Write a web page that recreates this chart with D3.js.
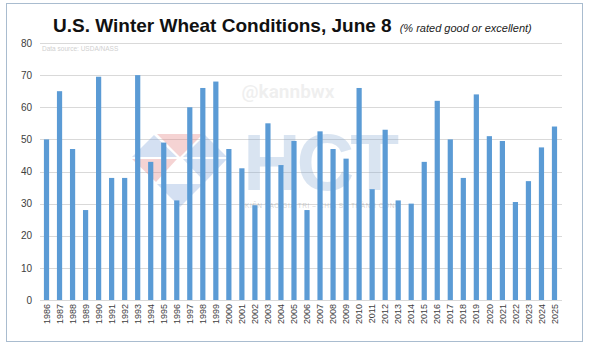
<!DOCTYPE html>
<html>
<head>
<meta charset="utf-8">
<script src="https://cdn.jsdelivr.net/npm/d3@7"></script>
<style>
  html, body { margin: 0; padding: 0; background: #ffffff; }
  svg { display: block; font-family: "Liberation Sans", Arial, sans-serif; }
</style>
</head>
<body>
<svg id="chart" width="590" height="346"></svg>
<script>
// ---- data ----
const years = ["1986","1987","1988","1989","1990","1991","1992","1993","1994","1995",
               "1996","1997","1998","1999","2000","2001","2002","2003","2004","2005",
               "2006","2007","2008","2009","2010","2011","2012","2013","2014","2015",
               "2016","2017","2018","2019","2020","2021","2022","2023","2024","2025"];
const goodExcellent = [50, 65, 47, 28, 69.5, 38, 38, 70, 43, 49,
                       31, 60, 66, 68, 47, 41, 29.5, 55, 42, 49.5,
                       28, 52.5, 47, 44, 66, 34.5, 53, 31, 30, 43,
                       62, 50, 38, 64, 51, 49.5, 30.5, 37, 47.5, 54];
const yTicks = [0, 10, 20, 30, 40, 50, 60, 70, 80];
const titleText = "U.S. Winter Wheat Conditions, June 8";
const subtitleText = "(% rated good or excellent)";
const sourceText = "Data source: USDA/NASS";

(function draw() {
// ---- layout ----
const svg = d3.select("#chart");
const mLeft = 40, mRight = 561, mTop = 43, mBottom = 300;

// frame
svg.append("rect").attr("x", 6.5).attr("y", 3.5).attr("width", 576).attr("height", 338)
  .attr("fill", "#ffffff").attr("stroke", "#a9bccf").attr("stroke-width", 1);

const x = d3.scaleBand().domain(years).range([mLeft, mRight]).paddingInner(0.6).paddingOuter(0.3);
const y = d3.scaleLinear().domain([0, 80]).range([mBottom, mTop]);

// gridlines
svg.append("g").selectAll("line").data(yTicks).join("line")
  .attr("x1", mLeft).attr("x2", mRight + 1)
  .attr("y1", d => Math.round(y(d)) + 0.5).attr("y2", d => Math.round(y(d)) + 0.5)
  .attr("stroke", "#d9d9d9").attr("stroke-width", 1);

// y axis labels
const yAxis = d3.axisLeft(y).tickValues(yTicks).tickSize(0).tickPadding(8);
const gy = svg.append("g").attr("transform", `translate(${mLeft},0)`).call(yAxis);
gy.select(".domain").remove();
gy.selectAll("text").attr("font-size", 10).attr("fill", "#404040")
  .attr("font-family", "Liberation Sans, Arial, sans-serif");

// watermark (behind bars)
const wm = svg.append("g");
wm.append("text").attr("x", 288).attr("y", 98).attr("text-anchor", "middle")
  .attr("font-size", 19).attr("font-weight", "bold").attr("fill", "#000").attr("opacity", 0.06)
  .attr("font-family", "Roboto, sans-serif").text("@kannbwx");
const blue = "rgba(120,160,215,0.32)", red = "rgba(225,130,130,0.35)";
const polys = [
  {p: [[132,157],[154,135],[177,157]], c: blue},
  {p: [[157,134],[203,134],[180,157]], c: red},
  {p: [[183,157],[205,135],[227,157]], c: blue},
  {p: [[132,159],[177,159],[156,182]], c: red},
  {p: [[183,159],[227,159],[205,182]], c: blue},
  {p: [[157,184],[203,184],[180,207]], c: blue}
];
wm.selectAll("polygon").data(polys).join("polygon")
  .attr("points", d => d.p.map(q => q.join(",")).join(" ")).attr("fill", d => d.c);
wm.append("text").attr("x", 243).attr("y", 190).attr("textLength", 156)
  .attr("font-size", 80).attr("font-weight", "bold").attr("fill", "rgba(130,165,210,0.3)")
  .attr("font-family", "Liberation Sans, Arial, sans-serif").text("HCT");
wm.append("text").attr("x", 245).attr("y", 208).attr("textLength", 155)
  .attr("font-size", 6.5).attr("fill", "rgba(120,120,120,0.35)")
  .text("KIẾN TẠO GIÁ TRỊ – CHIA SẺ THÀNH CÔNG");

// bars
svg.append("g").selectAll("rect").data(years).join("rect")
  .attr("x", d => x(d)).attr("width", x.bandwidth())
  .attr("y", (d, i) => y(goodExcellent[i]))
  .attr("height", (d, i) => y(0) - y(goodExcellent[i]))
  .attr("fill", "#5b9bd5");

// x axis labels
const xAxis = d3.axisBottom(x).tickSize(0).tickPadding(0);
const gx = svg.append("g").attr("transform", `translate(0,${mBottom})`).call(xAxis);
gx.select(".domain").remove();
gx.selectAll("text")
  .attr("font-size", 9).attr("fill", "#404040")
  .attr("font-family", "Liberation Sans, Arial, sans-serif")
  .attr("transform", "rotate(-90)")
  .attr("text-anchor", "end").attr("dy", "0.35em").attr("x", -4).attr("y", 0);

// title
const t = svg.append("text").attr("x", 53).attr("y", 32).attr("fill", "#111");
t.append("tspan").attr("font-size", 19).attr("font-weight", "bold").text(titleText);
t.append("tspan").attr("dx", 8).attr("font-size", 11).attr("font-style", "italic").attr("fill", "#222").text(subtitleText);

// source note
svg.append("text").attr("x", 42).attr("y", 51).attr("font-size", 6.5).attr("fill", "#d0d0d0").text(sourceText);
})();
</script>
</body>
</html>
